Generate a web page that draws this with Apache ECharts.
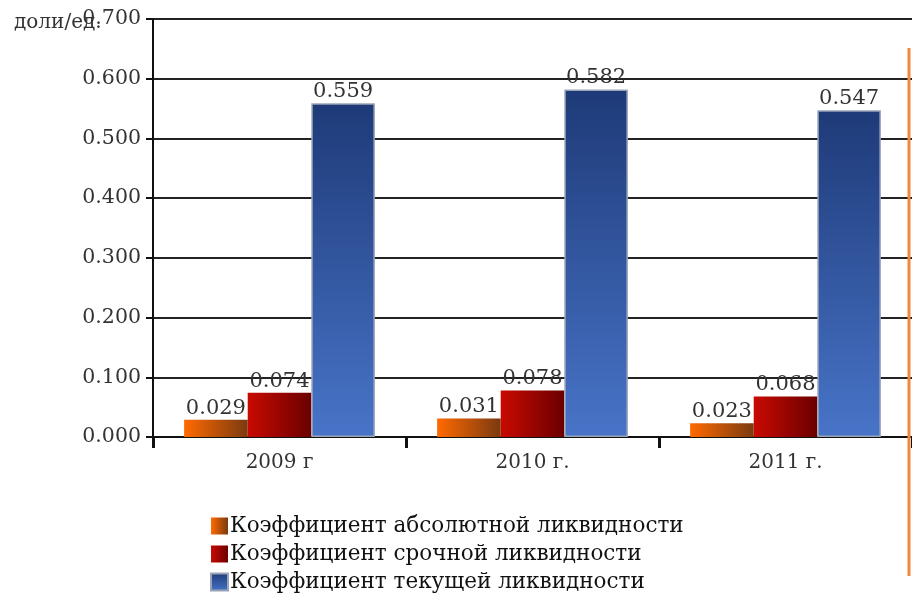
<!DOCTYPE html>
<html>
<head>
<meta charset="utf-8">
<script src="https://cdn.jsdelivr.net/npm/echarts@6/dist/echarts.min.js"></script>
<style>html,body{margin:0;padding:0;background:#fff}#c{width:912px;height:599px}</style>
</head>
<body>
<div id="c"></div>
<script>
var categories = ['2009 г', '2010 г.', '2011 г.'];
var seriesNames = ['Коэффициент абсолютной ликвидности', 'Коэффициент срочной ликвидности', 'Коэффициент текущей ликвидности'];
var absLiquidity = [0.029, 0.031, 0.023];
var quickLiquidity = [0.074, 0.078, 0.068];
var currentLiquidity = [0.559, 0.582, 0.547];
var unitLabel = 'доли/ед.';

var FONT = '"DejaVu Serif", "Liberation Serif", serif';
function lin(x0, y0, x1, y1, c0, c1) {
  return new echarts.graphic.LinearGradient(x0, y0, x1, y1, [{offset: 0, color: c0}, {offset: 1, color: c1}]);
}
var label = {
  show: true, position: 'top', distance: 1,
  fontFamily: FONT, fontSize: 21, color: '#333',
  formatter: function (p) { return p.value.toFixed(3); }
};
var chart = echarts.init(document.getElementById('c'));
chart.setOption({
  animation: false,
  title: {
    text: unitLabel, left: 9, top: 8,
    textStyle: {fontFamily: FONT, fontSize: 20, fontWeight: 'normal', color: '#333'}
  },
  grid: {left: 153, top: 19, width: 765, height: 418, containLabel: false},
  legend: {
    orient: 'vertical', left: 205, top: 510, height: 120, itemGap: 6,
    itemWidth: 17, itemHeight: 17, icon: 'rect',
    textStyle: {fontFamily: FONT, fontSize: 21.5, lineHeight: 22, color: '#111', padding: [0, 0, 0, -3]},
    data: seriesNames
  },
  xAxis: {
    type: 'category', data: categories,
    axisLine: {lineStyle: {color: '#111', width: 2}},
    axisTick: {show: true, length: 11, lineStyle: {color: '#111', width: 3}},
    axisLabel: {fontFamily: FONT, fontSize: 20, color: '#333', margin: 16}
  },
  yAxis: {
    type: 'value', min: 0, max: 0.7, interval: 0.1,
    axisLine: {show: true, lineStyle: {color: '#111', width: 2}},
    axisTick: {show: true, length: 7, lineStyle: {color: '#111', width: 2}},
    axisLabel: {fontFamily: FONT, fontSize: 20.5, color: '#333', margin: 12,
      formatter: function (v) { return v.toFixed(3); }},
    splitLine: {lineStyle: {color: '#222', width: 2}}
  },
  graphic: [{
    type: 'line', shape: {x1: 909, y1: 48, x2: 909, y2: 576},
    style: {stroke: '#f2883a', lineWidth: 3}, z: 100
  }],
  series: [
    {name: seriesNames[0], type: 'bar', data: absLiquidity, barGap: '0%', barCategoryGap: '24.6%',
      itemStyle: {color: lin(0, 0, 1, 0, '#ff6a00', '#7a3a10')}, label: label},
    {name: seriesNames[1], type: 'bar', data: quickLiquidity,
      itemStyle: {color: lin(0, 0, 1, 0, '#c80a00', '#6a0000')}, label: label},
    {name: seriesNames[2], type: 'bar', data: currentLiquidity,
      itemStyle: {color: lin(0, 0, 0, 1, '#1e3a78', '#4874c8'), borderColor: '#9aa4b8', borderWidth: 1.5}, label: label}
  ]
});
</script>
</body>
</html>
